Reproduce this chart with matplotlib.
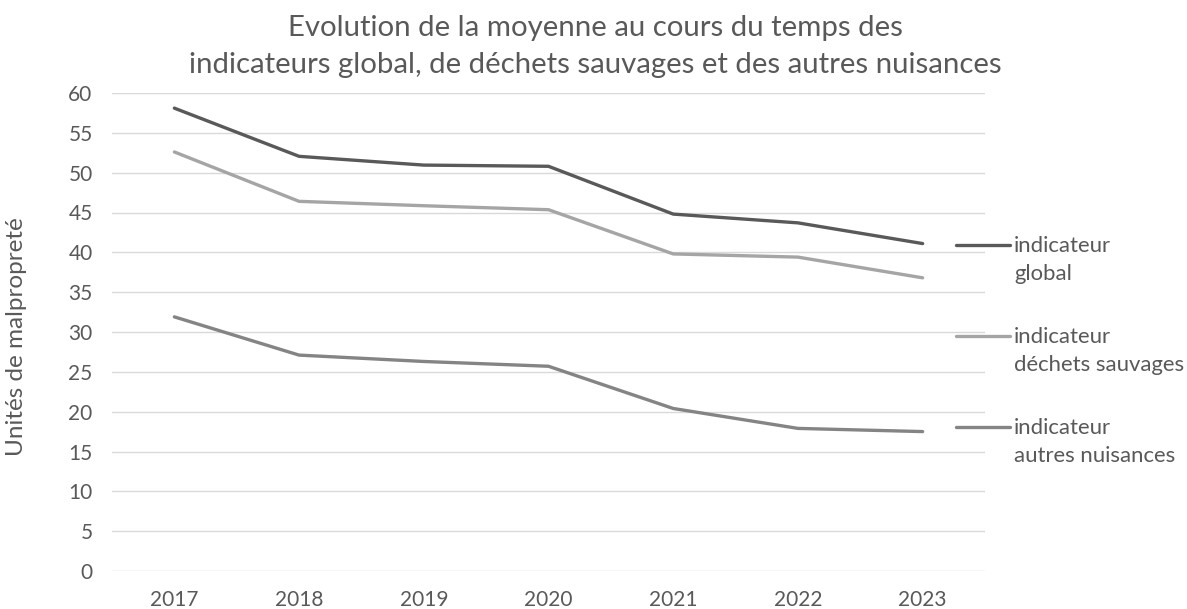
import matplotlib
matplotlib.use("Agg")
import matplotlib.pyplot as plt
from matplotlib.lines import Line2D

years = ["2017", "2018", "2019", "2020", "2021", "2022", "2023"]
global_vals = [58.1, 52.05, 50.95, 50.8, 44.8, 43.7, 41.1]
sauvages_vals = [52.6, 46.4, 45.85, 45.35, 39.8, 39.4, 36.8]
autres_vals = [31.9, 27.1, 26.3, 25.7, 20.4, 17.9, 17.5]
series_labels = [("indicateur", "global"), ("indicateur", "déchets sauvages"), ("indicateur", "autres nuisances")]
title_lines = ["Evolution de la moyenne au cours du temps des",
               "indicateurs global, de déchets sauvages et des autres nuisances"]
yticks = list(range(0, 61, 5))

colors = ["#595959", "#A5A5A5", "#848484"]
txt = "#595959"

plt.rcParams['font.family'] = ['Lato', 'DejaVu Sans']

W, H = 1187, 609
fig = plt.figure(figsize=(W/100, H/100), dpi=100)
ax = fig.add_axes([112/W, 1-571/H, (985-112)/W, (571-93)/H])

x = list(range(len(years)))
for vals, c in zip([global_vals, sauvages_vals, autres_vals], colors):
    ax.plot(x, vals, color=c, lw=2.4, solid_capstyle='round', solid_joinstyle='round', zorder=3)

ax.set_xlim(-0.5, len(years) - 0.5)
ax.set_ylim(0, 60)
ax.set_yticks(yticks)
ax.set_xticks(x)
ax.set_xticklabels(years)
ax.grid(axis='y', color='#D9D9D9', lw=1.0, zorder=0)
ax.set_axisbelow(True)
for s in ax.spines.values():
    s.set_visible(False)
ax.tick_params(axis='both', length=0, labelsize=15, labelcolor=txt)
ax.tick_params(axis='y', pad=14)
ax.tick_params(axis='x', pad=14)
ax.set_ylabel("Unités de malpropreté", fontsize=17.5, color=txt)
ax.yaxis.set_label_coords(-0.097, 0.49)

# title (two lines, baselines matched)
for line, yb in zip(title_lines, [36, 73]):
    fig.text(595/W, 1-yb/H, line, ha='center', va='baseline', fontsize=21.2, color=txt)

# legend drawn manually
leg_y = [245, 336, 427]
for (l1, l2), c, yy in zip(series_labels, colors, leg_y):
    yf = 1 - yy/H
    fig.add_artist(Line2D([956/W, 1010/W], [yf, yf], color=c, lw=2.4,
                          transform=fig.transFigure, solid_capstyle='round'))
    fig.text(1014/W, 1-(yy+7)/H, l1, ha='left', va='baseline', fontsize=15.9, color=txt)
    fig.text(1014/W, 1-(yy+35)/H, l2, ha='left', va='baseline', fontsize=15.9, color=txt)

fig.savefig("out.png", dpi=100)
